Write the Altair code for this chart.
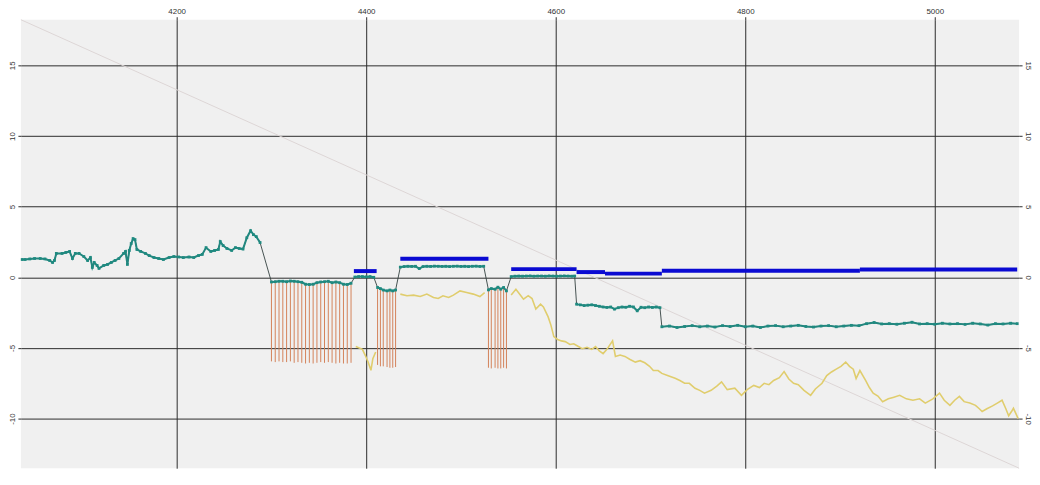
import altair as alt
import pandas as pd

# ---------------- data ----------------
X_DOMAIN = [4035.6, 5089]
Y_DOMAIN = [-13.51, 18.23]
x_ticks = [4200, 4400, 4600, 4800, 5000]
y_ticks = [-10, -5, 0, 5, 10, 15]

diag_x = [4035.6, 5089]
diag_y = [18.23, -13.51]

tealA_x = [4037, 4040, 4045, 4050, 4056, 4061, 4066, 4069, 4071, 4073, 4079, 4083, 4087, 4090, 4093,
           4097, 4102, 4106, 4109, 4111, 4113, 4116, 4118, 4123, 4127, 4131, 4135, 4139, 4144, 4146,
           4148, 4150, 4152, 4154, 4156, 4158, 4162, 4167, 4171, 4176, 4181, 4186, 4192, 4197, 4202,
           4207, 4213, 4218, 4223, 4227, 4231, 4236, 4240, 4244, 4246, 4249, 4253, 4258, 4262, 4266,
           4270, 4274, 4278, 4281, 4284, 4288]
tealA_y = [1.26, 1.26, 1.3, 1.33, 1.33, 1.3, 1.19, 1.05, 1.19, 1.69, 1.69, 1.76, 1.83, 1.33, 1.69,
           1.69, 1.47, 1.19, 1.4, 0.7, 1.05, 0.84, 0.63, 0.84, 0.91, 1.05, 1.19, 1.33, 1.69, 1.83,
           0.91, 1.9, 2.39, 2.74, 2.67, 1.97, 1.83, 1.69, 1.54, 1.4, 1.33, 1.26, 1.4, 1.47, 1.44,
           1.4, 1.44, 1.4, 1.54, 1.62, 2.1, 1.83, 1.9, 1.97, 2.53, 2.25, 2.04, 1.9, 2.1, 2.04,
           2.0, 2.8, 3.3, 3.02, 2.88, 2.46]

tealB_x = [4300, 4304, 4308, 4312, 4316, 4320, 4324, 4328, 4332, 4336, 4340, 4344, 4348, 4352,
           4356, 4360, 4364, 4368, 4372, 4376, 4380, 4384]
tealB_y = [-0.33, -0.31, -0.28, -0.28, -0.31, -0.26, -0.28, -0.31, -0.35, -0.49, -0.51, -0.49,
           -0.38, -0.33, -0.31, -0.28, -0.38, -0.33, -0.38, -0.49, -0.51, -0.42]
tealB_low = [-5.95, -6.0, -5.95, -6.0, -6.0, -5.95, -6.05, -6.0, -6.05, -6.1, -6.05, -6.1,
             -6.05, -6.0, -6.05, -6.0, -6.05, -6.1, -6.05, -6.1, -6.1, -6.05]

tealC_x = [4388, 4392, 4396, 4400, 4404, 4408]
tealC_y = [0.02, 0.05, 0.05, 0.03, 0.05, 0.0]

tealD_x = [4412, 4415, 4418, 4422, 4425, 4428, 4431]
tealD_y = [-0.72, -0.8, -0.9, -0.96, -0.9, -0.96, -0.9]
tealD_low = [-6.2, -6.3, -6.3, -6.35, -6.4, -6.4, -6.35]

tealE_x = [4436, 4440, 4444, 4448, 4452, 4456, 4460, 4464, 4468, 4472, 4476, 4480, 4484, 4488,
           4492, 4496, 4500, 4504, 4508, 4512, 4516, 4520, 4524]
tealE_y = [0.72, 0.76, 0.78, 0.77, 0.78, 0.62, 0.76, 0.78, 0.77, 0.79, 0.78, 0.77, 0.78, 0.76,
           0.78, 0.79, 0.77, 0.78, 0.76, 0.78, 0.79, 0.77, 0.78]

tealF_x = [4529, 4532, 4536, 4539, 4542, 4545, 4548]
tealF_y = [-0.89, -0.8, -0.84, -0.7, -0.84, -0.72, -0.96]
tealF_low = [-6.4, -6.45, -6.4, -6.45, -6.45, -6.4, -6.45]

tealG_x = [4553, 4557, 4561, 4565, 4569, 4573, 4577, 4581, 4585, 4589, 4593, 4597, 4601, 4605,
           4609, 4613, 4617, 4620]
tealG_y = [0.05, 0.08, 0.09, 0.08, 0.09, 0.1, 0.08, 0.09, 0.09, 0.08, 0.1, 0.09, 0.08, 0.09,
           0.1, 0.09, 0.08, 0.09]

tealH_x = [4622, 4626, 4630, 4634, 4638, 4642, 4646, 4650, 4654, 4658, 4662, 4666, 4670, 4674,
           4678, 4682, 4686, 4690, 4694, 4698, 4702, 4706, 4710]
tealH_y = [-1.9, -1.95, -2.0, -1.97, -1.95, -2.0, -2.05, -2.1, -2.13, -2.1, -2.25, -2.15, -2.1,
           -2.12, -2.05, -2.1, -2.37, -2.12, -2.15, -2.1, -2.13, -2.1, -2.15]

tealI_x = [4712, 4720, 4728, 4736, 4744, 4752, 4760, 4768, 4776, 4784, 4792, 4800, 4808, 4816,
           4824, 4832, 4840, 4848, 4856, 4864, 4872, 4880, 4888, 4896, 4904, 4912, 4920, 4928,
           4936, 4944, 4952, 4960, 4968, 4976, 4984, 4992, 5000, 5008, 5016, 5024, 5032, 5040,
           5048, 5056, 5064, 5072, 5080, 5087]
tealI_y = [-3.5, -3.45, -3.55, -3.48, -3.42, -3.5, -3.45, -3.52, -3.42, -3.48,
           -3.4, -3.5, -3.45, -3.55, -3.45, -3.42, -3.5, -3.45, -3.4, -3.48,
           -3.52, -3.45, -3.42, -3.5, -3.45, -3.4, -3.42, -3.28, -3.2, -3.3,
           -3.28, -3.32, -3.25, -3.18, -3.3, -3.28, -3.32, -3.25, -3.3, -3.28,
           -3.33, -3.25, -3.3, -3.38, -3.28, -3.3, -3.25, -3.28]

yel1_x = [4389, 4396, 4399, 4402, 4405, 4407, 4410]
yel1_y = [-4.89, -5.1, -5.52, -5.99, -6.58, -5.76, -5.29]
yel2_x = [4436, 4443, 4450, 4457, 4464, 4471, 4476, 4481, 4487, 4492, 4499, 4506, 4513, 4520, 4525]
yel2_y = [-1.19, -1.31, -1.26, -1.36, -1.19, -1.43, -1.5, -1.31, -1.43, -1.26, -0.96, -1.08,
          -1.19, -1.36, -1.08]
yel3_x = [4553, 4558, 4562, 4566, 4571, 4575, 4579, 4584, 4587, 4592,
          4595, 4598, 4602, 4606, 4610, 4615, 4619, 4624, 4628, 4633,
          4638, 4642, 4646, 4650, 4654, 4660, 4663, 4668, 4673, 4678,
          4684, 4689, 4694, 4699, 4703, 4708, 4712, 4718, 4726, 4731,
          4736, 4741, 4747, 4752, 4757, 4764, 4770, 4775, 4781, 4789,
          4796, 4802, 4809, 4815, 4820, 4825, 4830, 4836, 4841, 4846,
          4851, 4856, 4862, 4869, 4874, 4881, 4886, 4891, 4896, 4901,
          4906, 4910, 4914, 4917, 4921, 4927, 4931, 4935, 4940, 4945,
          4951, 4956, 4963, 4970, 4977, 4984, 4990, 4998, 5005, 5010,
          5016, 5021, 5026, 5031, 5037, 5043, 5047, 5050, 5055, 5061,
          5066, 5071, 5075, 5078, 5081, 5083, 5086, 5088]
yel3_y = [-1.26, -0.85, -1.2, -1.55, -1.3, -1.5, -2.25, -1.9, -2.1, -2.8,
          -3.4, -4.2, -4.4, -4.5, -4.55, -4.75, -4.7, -4.9, -5.05, -4.95,
          -5.1, -4.9, -5.2, -5.4, -5.1, -4.5, -5.6, -5.5, -5.6, -5.8,
          -6.0, -5.9, -6.05, -6.3, -6.6, -6.6, -6.8, -6.95, -7.15, -7.3,
          -7.5, -7.5, -7.85, -8.0, -8.2, -8.0, -7.7, -7.4, -7.95, -7.85,
          -8.35, -7.95, -7.65, -7.8, -7.5, -7.6, -7.3, -7.1, -6.67, -7.2,
          -7.5, -7.6, -8.0, -8.35, -7.9, -7.5, -6.95, -6.7, -6.5, -6.3,
          -6.0, -6.3, -6.5, -7.16, -6.6, -7.3, -7.8, -8.2, -8.4, -8.8,
          -8.6, -8.5, -8.35, -8.6, -8.7, -8.6, -8.9, -8.6, -8.2, -8.7,
          -9.06, -8.7, -8.43, -8.8, -8.9, -9.06, -9.3, -9.5, -9.3, -9.1,
          -8.9, -8.7, -9.3, -9.8, -9.5, -9.27, -9.7, -10.0]

blue_x0 = [4387, 4436, 4553, 4622, 4652, 4712, 4921]
blue_x1 = [4411, 4529, 4622, 4652, 4712, 4921, 5087]
blue_y = [0.44, 1.31, 0.58, 0.37, 0.26, 0.46, 0.56]

# ---------------- tables ----------------
teal_parts = [("A", tealA_x, tealA_y), ("B", tealB_x, tealB_y), ("C", tealC_x, tealC_y),
              ("D", tealD_x, tealD_y), ("E", tealE_x, tealE_y), ("F", tealF_x, tealF_y),
              ("G", tealG_x, tealG_y), ("H", tealH_x, tealH_y), ("I", tealI_x, tealI_y)]
teal_df = pd.DataFrame([{"seg": s, "x": x, "y": y} for s, xs_, ys_ in teal_parts for x, y in zip(xs_, ys_)])

rule_parts = [(tealB_x, tealB_y, tealB_low), (tealD_x, tealD_y, tealD_low), (tealF_x, tealF_y, tealF_low)]
rule_df = pd.DataFrame([{"x": x, "y": y, "y2": lo} for xs_, ys_, los in rule_parts for x, y, lo in zip(xs_, ys_, los)])

yel_parts = [("1", yel1_x, yel1_y), ("2", yel2_x, yel2_y), ("3", yel3_x, yel3_y)]
yel_df = pd.DataFrame([{"seg": s, "x": x, "y": y} for s, xs_, ys_ in yel_parts for x, y in zip(xs_, ys_)])

blue_df = pd.DataFrame({"x": blue_x0, "x2": blue_x1, "y": blue_y})
diag_df = pd.DataFrame({"x": diag_x, "y": diag_y})

# ---------------- chart ----------------
GRID = "#2b2b2b"
FONT = "Liberation Sans"
xs = alt.Scale(domain=X_DOMAIN, nice=False, zero=False)
ys = alt.Scale(domain=Y_DOMAIN, nice=False, zero=False)

axis_x = alt.Axis(orient="top", values=x_ticks, grid=True, gridColor=GRID, gridOpacity=1, gridWidth=1,
                  domain=False, tickColor=GRID, tickSize=3, labelFont=FONT, labelFontSize=8,
                  labelColor="#333333", labelPadding=1, title=None, labelFlush=False,
                  labelExpr="datum.value + ''")
axis_yl = alt.Axis(orient="left", values=y_ticks, grid=True, gridColor=GRID, gridOpacity=1, gridWidth=1,
                   domain=False, tickColor=GRID, tickSize=3, labelFont=FONT, labelFontSize=8,
                   labelColor="#333333", labelPadding=1, labelAngle=270, labelAlign="center",
                   labelBaseline="bottom", labelExpr="datum.value + ''", title=None)
axis_yr = alt.Axis(orient="right", values=y_ticks, grid=False,
                   domain=False, tickColor=GRID, tickSize=3, labelFont=FONT, labelFontSize=8,
                   labelColor="#333333", labelPadding=1, labelAngle=90, labelAlign="center",
                   labelBaseline="bottom", labelExpr="datum.value + ''", title=None)

diag = alt.Chart(diag_df).mark_line(color="#ddd6d6", strokeWidth=1).encode(
    x=alt.X("x:Q", scale=xs, axis=axis_x),
    y=alt.Y("y:Q", scale=ys, axis=axis_yl),
)

rules = alt.Chart(rule_df).mark_rule(color="#d4825a", strokeWidth=1).encode(
    x=alt.X("x:Q", scale=xs, axis=None),
    y=alt.Y("y:Q", scale=ys, axis=axis_yr),
    y2="y2:Q",
)

yellow = alt.Chart(yel_df).mark_line(color="#e0cd6d", strokeWidth=1.6).encode(
    x=alt.X("x:Q", scale=xs, axis=None),
    y=alt.Y("y:Q", scale=ys, axis=None),
    detail="seg:N",
)

blue = alt.Chart(blue_df).mark_rule(color="#0a0ad2", strokeWidth=4, strokeCap="butt").encode(
    x=alt.X("x:Q", scale=xs, axis=None),
    x2="x2:Q",
    y=alt.Y("y:Q", scale=ys, axis=None),
)

teal_thin = alt.Chart(teal_df).mark_line(color="#33403f", strokeWidth=0.9).encode(
    x=alt.X("x:Q", scale=xs, axis=None),
    y=alt.Y("y:Q", scale=ys, axis=None),
    order="x:Q",
)

teal_thick = alt.Chart(teal_df).mark_line(color="#22877f", strokeWidth=2).encode(
    x=alt.X("x:Q", scale=xs, axis=None),
    y=alt.Y("y:Q", scale=ys, axis=None),
    detail="seg:N",
)

teal_pts = alt.Chart(teal_df).mark_square(color="#1f8a80", size=8, opacity=1).encode(
    x=alt.X("x:Q", scale=xs, axis=None),
    y=alt.Y("y:Q", scale=ys, axis=None),
)

chart = alt.layer(diag, rules, yellow, blue, teal_thin, teal_thick, teal_pts).resolve_axis(
    x="independent", y="independent"
).properties(
    width=1006, height=452,
    padding={"left": 13, "top": 10, "right": 13, "bottom": 0},
    autosize=alt.AutoSizeParams(type="none"),
    background="#ffffff",
).configure_view(fill="#f0f0f0", strokeWidth=0)

chart.save("out.html", embed_options={"renderer": "svg", "actions": False})
